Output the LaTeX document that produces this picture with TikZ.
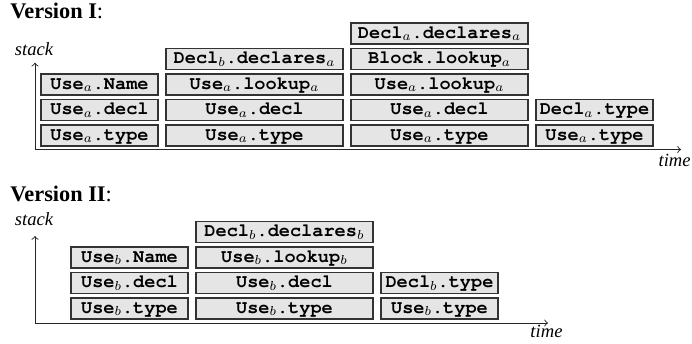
\documentclass[tikz,border=0pt]{standalone}
\usepackage[T1]{fontenc}
\usepackage{fontspec}
\setmainfont{Liberation Serif}
\setmonofont{Liberation Mono}
\newcommand{\crbold}{\fontencoding{T1}\fontfamily{pcr}\fontseries{b}\selectfont}
\begin{document}
\begin{tikzpicture}[x=0.5376pt,y=-0.5376pt,
  cell/.style={draw=black!80, fill=black!10, line width=0.75pt,
    minimum height={21*0.5376pt}, inner sep=0pt,
    font=\crbold, text height=7pt, text depth=2pt},
  narrow/.style={cell, minimum width={117*0.5376pt}},
  wide/.style={cell, minimum width={177*0.5376pt}},
  axis/.style={draw=black!85, line width=0.5pt, <->},
  lab/.style={font=\itshape, inner sep=0pt, anchor=base},
  title/.style={font=\large, inner sep=0pt, anchor=base west}]
\useasboundingbox (0,0) rectangle (692,343);

% ---------- Version I ----------
\node[title] (v1) at (10,18.3) {\textbf{Version I}:};
\coordinate (o1) at (35,149.5);
\coordinate (ya1) at (35,62.7);
\coordinate (xa1) at (681,149.5);
\draw[axis] (ya1) -- (o1) -- (xa1);
\node[lab] (s1) at (34,55) {stack};
\node[lab, anchor=base east] (t1) at (691,166.5) {time};

\node[narrow] (a11) at (99.5,135.5) {Use$_a$.type};
\node[narrow] (a12) at (99.5,110) {Use$_a$.decl};
\node[narrow] (a13) at (99.5,84.5) {Use$_a$.Name};

\node[wide] (a21) at (254.5,135.5) {Use$_a$.type};
\node[wide] (a22) at (254.5,110) {Use$_a$.decl};
\node[wide] (a23) at (254.5,84.5) {Use$_a$.lookup$_a$};
\node[wide] (a24) at (254.5,59) {Decl$_b$.declares$_a$};

\node[wide] (a31) at (439.5,135.5) {Use$_a$.type};
\node[wide] (a32) at (439.5,110) {Use$_a$.decl};
\node[wide] (a33) at (439.5,84.5) {Use$_a$.lookup$_a$};
\node[wide] (a34) at (439.5,59) {Block.lookup$_a$};
\node[wide] (a35) at (439.5,33.5) {Decl$_a$.declares$_a$};

\node[narrow] (a41) at (594.5,135.5) {Use$_a$.type};
\node[narrow] (a42) at (594.5,110) {Decl$_a$.type};

% ---------- Version II ----------
\node[title] (v2) at (10,201.7) {\textbf{Version II}:};
\coordinate (o2) at (35,323);
\coordinate (ya2) at (35,236);
\coordinate (xa2) at (548,323);
\draw[axis] (ya2) -- (o2) -- (xa2);
\node[lab] (s2) at (34,225.5) {stack};
\node[lab] (t2) at (546.5,337) {time};

\node[narrow] (b11) at (129.5,308.5) {Use$_b$.type};
\node[narrow] (b12) at (129.5,283) {Use$_b$.decl};
\node[narrow] (b13) at (129.5,257.5) {Use$_b$.Name};

\node[wide] (b21) at (284.5,308.5) {Use$_b$.type};
\node[wide] (b22) at (284.5,283) {Use$_b$.decl};
\node[wide] (b23) at (284.5,257.5) {Use$_b$.lookup$_b$};
\node[wide] (b24) at (284.5,232) {Decl$_b$.declares$_b$};

\node[narrow] (b31) at (439.5,308.5) {Use$_b$.type};
\node[narrow] (b32) at (439.5,283) {Decl$_b$.type};
\end{tikzpicture}
\end{document}
